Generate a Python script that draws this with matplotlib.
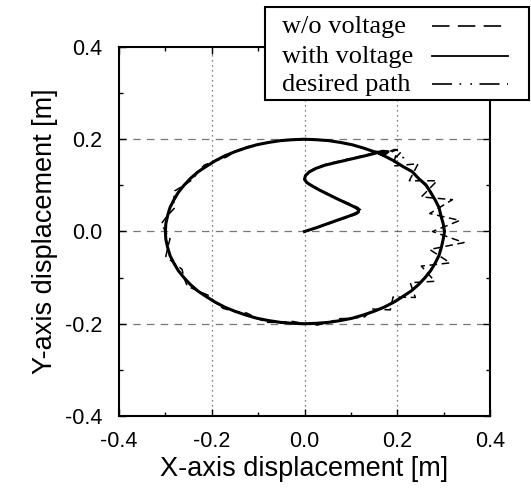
import matplotlib
matplotlib.use("Agg")
import matplotlib.pyplot as plt
from matplotlib.lines import Line2D
from matplotlib.patches import Rectangle

# ---- data ----
desired_x = [0.300, 0.299, 0.295, 0.290, 0.282, 0.272, 0.260, 0.246, 0.230, 0.212, 0.193, 0.172,
             0.150, 0.127, 0.103, 0.078, 0.052, 0.026, 0.000,
             -0.026, -0.052, -0.078, -0.103, -0.127, -0.150, -0.172, -0.193, -0.212, -0.230,
             -0.246, -0.260, -0.272, -0.282, -0.290, -0.295, -0.299, -0.300,
             -0.299, -0.295, -0.290, -0.282, -0.272, -0.260, -0.246, -0.230, -0.212, -0.193,
             -0.172, -0.150, -0.127, -0.103, -0.078, -0.052, -0.026, 0.000,
             0.026, 0.052, 0.078, 0.103, 0.127, 0.150, 0.172, 0.193, 0.212, 0.230, 0.246,
             0.260, 0.272, 0.282, 0.290, 0.295, 0.299, 0.300]
desired_y = [0.000, 0.017, 0.035, 0.052, 0.068, 0.085, 0.100, 0.115, 0.129, 0.141, 0.153, 0.164,
             0.173, 0.181, 0.188, 0.193, 0.197, 0.199, 0.200,
             0.199, 0.197, 0.193, 0.188, 0.181, 0.173, 0.164, 0.153, 0.141, 0.129,
             0.115, 0.100, 0.085, 0.068, 0.052, 0.035, 0.017, 0.000,
             -0.017, -0.035, -0.052, -0.068, -0.085, -0.100, -0.115, -0.129, -0.141, -0.153,
             -0.164, -0.173, -0.181, -0.188, -0.193, -0.197, -0.199, -0.200,
             -0.199, -0.197, -0.193, -0.188, -0.181, -0.173, -0.164, -0.153, -0.141, -0.129, -0.115,
             -0.100, -0.085, -0.068, -0.052, -0.035, -0.017, 0.000]

# with voltage: S-shaped approach, then clockwise around the ellipse
with_x = [0.000, 0.025, 0.050, 0.075, 0.095, 0.108, 0.116, 0.117, 0.112, 0.100, 0.085, 0.068,
          0.050, 0.032, 0.016, 0.005, 0.000, 0.002, 0.010, 0.025, 0.045, 0.070, 0.100, 0.130,
          0.150, 0.168, 0.180, 0.170, 0.160,
          0.172, 0.193, 0.212, 0.232, 0.246, 0.262, 0.272, 0.282, 0.290, 0.294, 0.299, 0.302,
          0.299, 0.295, 0.290, 0.282, 0.272, 0.260, 0.246, 0.230, 0.212, 0.193, 0.172, 0.150,
          0.127, 0.103, 0.078, 0.052, 0.026, 0.000,
          -0.026, -0.052, -0.078, -0.103, -0.127, -0.150, -0.172, -0.193, -0.212, -0.230,
          -0.246, -0.260, -0.272, -0.282, -0.290, -0.295, -0.299, -0.300,
          -0.299, -0.295, -0.290, -0.282, -0.272, -0.260, -0.246, -0.230, -0.212, -0.193,
          -0.172, -0.150, -0.127, -0.103, -0.078, -0.052, -0.026, 0.000,
          0.026, 0.052, 0.078, 0.103, 0.127, 0.150, 0.168]
with_y = [0.000, 0.008, 0.017, 0.026, 0.033, 0.038, 0.042, 0.046, 0.051, 0.057, 0.064, 0.072,
          0.081, 0.090, 0.099, 0.106, 0.113, 0.121, 0.129, 0.137, 0.144, 0.150, 0.157, 0.164,
          0.169, 0.174, 0.173, 0.166, 0.170,
          0.164, 0.153, 0.141, 0.130, 0.115, 0.101, 0.085, 0.068, 0.052, 0.035, 0.017, 0.000,
          -0.017, -0.035, -0.052, -0.068, -0.085, -0.100, -0.115, -0.129, -0.141, -0.153, -0.164, -0.173,
          -0.181, -0.188, -0.193, -0.197, -0.199, -0.200,
          -0.199, -0.197, -0.193, -0.188, -0.181, -0.173, -0.164, -0.153, -0.141, -0.129,
          -0.115, -0.100, -0.085, -0.068, -0.052, -0.035, -0.017, 0.000,
          0.017, 0.035, 0.052, 0.068, 0.085, 0.100, 0.115, 0.129, 0.141, 0.153,
          0.164, 0.173, 0.181, 0.188, 0.193, 0.197, 0.199, 0.200,
          0.199, 0.197, 0.193, 0.188, 0.181, 0.173, 0.170]

# without voltage: same approach, strong oscillation on the right side
wo_x = [0.000, 0.025, 0.050, 0.076, 0.097, 0.111, 0.120, 0.121, 0.115, 0.102, 0.086, 0.068,
        0.050, 0.032, 0.016, 0.005, 0.001, 0.003, 0.011, 0.027, 0.047, 0.072, 0.102, 0.132,
        0.155, 0.187, 0.200,
        0.191, 0.245, 0.226, 0.286, 0.252, 0.319, 0.270, 0.335, 0.276, 0.344, 0.270, 0.314,
        0.252, 0.281, 0.228, 0.239, 0.191, 0.185, 0.146,
        0.130, 0.103, 0.076, 0.052, 0.027, 0.000, -0.025, -0.052, -0.080, -0.103, -0.124,
        -0.150, -0.175, -0.193, -0.208, -0.230, -0.253, -0.260, -0.264, -0.282, -0.299,
        -0.295, -0.290, -0.300, -0.308, -0.295, -0.281, -0.282, -0.280, -0.260, -0.241,
        -0.230, -0.216, -0.193, -0.169, -0.150, -0.128, -0.103, -0.078, -0.052, -0.026,
        0.000, 0.026, 0.052, 0.078, 0.103, 0.127, 0.150,
        0.172, 0.195, 0.208, 0.198, 0.215]
wo_y = [0.000, 0.008, 0.016, 0.025, 0.032, 0.037, 0.042, 0.047, 0.052, 0.058, 0.065, 0.073,
        0.082, 0.091, 0.100, 0.107, 0.115, 0.123, 0.131, 0.139, 0.146, 0.152, 0.159, 0.166,
        0.171, 0.172, 0.178,
        0.142, 0.147, 0.110, 0.110, 0.075, 0.069, 0.039, 0.024, 0.000, -0.024, -0.039, -0.068,
        -0.075, -0.108, -0.111, -0.143, -0.142, -0.170, -0.168,
        -0.185, -0.188, -0.189, -0.197, -0.203, -0.200, -0.195, -0.197, -0.197, -0.188, -0.177,
        -0.173, -0.167, -0.153, -0.138, -0.129, -0.118, -0.100, -0.082, -0.068, -0.054,
        -0.035, -0.016, 0.000, 0.018, 0.035, 0.050, 0.068, 0.088, 0.100, 0.113,
        0.129, 0.144, 0.153, 0.161, 0.173, 0.183, 0.188, 0.193, 0.197, 0.199,
        0.200, 0.199, 0.197, 0.193, 0.188, 0.181, 0.173,
        0.170, 0.178, 0.172, 0.162, 0.160]

xticks = [-0.4, -0.2, 0.0, 0.2, 0.4]
yticks = [-0.4, -0.2, 0.0, 0.2, 0.4]
tick_labels = ["-0.4", "-0.2", "0.0", "0.2", "0.4"]
legend_labels = ["w/o voltage", "with voltage", "desired path"]

# ---- figure ----
W, H = 531, 490
fig = plt.figure(figsize=(W / 100, H / 100), dpi=100)
ax = fig.add_axes([119 / W, 1 - 416 / H, (490 - 119) / W, (416 - 47) / H])

sans = ["Liberation Sans", "DejaVu Sans"]
serif = ["Liberation Serif", "DejaVu Serif"]

dashdotdot = [12, 4.5, 1, 5.5, 1, 4.5]
ax.plot(desired_x, desired_y, color="black", lw=1.0, dashes=dashdotdot, zorder=2)
ax.plot(wo_x, wo_y, color="black", lw=1.1, dashes=[5, 3], zorder=3)
ax.plot(with_x, with_y, color="black", lw=2.2, zorder=4)

ax.set_xlim(-0.4, 0.4)
ax.set_ylim(-0.4, 0.4)
ax.set_xticks(xticks)
ax.set_yticks(yticks)
ax.set_xticklabels(tick_labels, family=sans, fontsize=15.5)
ax.set_yticklabels(tick_labels, family=sans, fontsize=15.5)
ax.set_xticks([-0.3, -0.1, 0.1, 0.3], minor=True)
ax.set_yticks([-0.3, -0.1, 0.1, 0.3], minor=True)
ax.tick_params(which="both", direction="in", top=True, right=True, width=1.0)
ax.tick_params(which="major", length=5)
ax.tick_params(which="minor", length=3)
ax.tick_params(axis="x", which="major", pad=11)
ax.tick_params(axis="y", which="major", pad=12)
for s in ax.spines.values():
    s.set_linewidth(1.5)

for v in [-0.2, 0.0, 0.2]:
    ax.axvline(v, color="#555555", lw=0.9, ls=(0, (1, 3)), zorder=1)
    ax.axhline(v, color="#777777", lw=0.9, ls=(0, (6, 5)), zorder=1)

ax.set_xlabel("X-axis displacement [m]", family=sans, fontsize=19.5, labelpad=3)
ax.set_ylabel("Y-axis displacement [m]", family=sans, fontsize=19.5, labelpad=5)

# ---- legend box (right border at the figure edge, as in the reference) ----
box = Rectangle((265 / W, 1 - 100 / H), (529 - 265) / W, 93 / H, transform=fig.transFigure,
                facecolor="white", edgecolor="black", lw=1.5, zorder=10)
fig.add_artist(box)
baselines = [33, 63, 91]
line_styles = [dict(lw=1.2, dashes=[10.5, 5]), dict(lw=1.3), dict(lw=1.2, dashes=dashdotdot)]
for lab, b, st in zip(legend_labels, baselines, line_styles):
    fig.text(282 / W, 1 - b / H, lab, family=serif, fontsize=19, va="baseline",
             ha="left", zorder=11)
    ln = Line2D([432 / W, 508 / W], [1 - (b - 7) / H] * 2, transform=fig.transFigure,
                color="black", zorder=11, **st)
    fig.add_artist(ln)

fig.savefig("out.png", dpi=100)
